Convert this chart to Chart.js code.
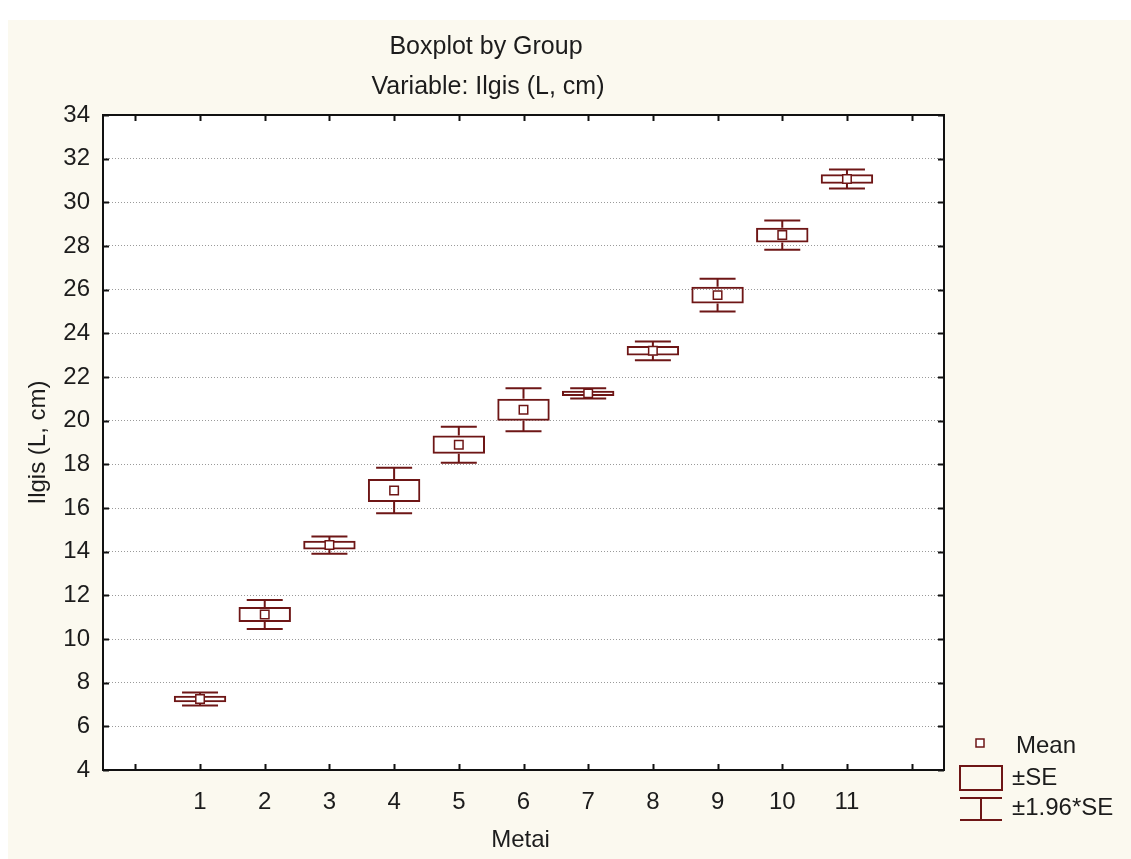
<!DOCTYPE html>
<html>
<head>
<meta charset="utf-8">
<script src="https://cdn.jsdelivr.net/npm/chart.js@4.4.1/dist/chart.umd.min.js"></script>
<style>
  html, body { margin: 0; padding: 0; background: #ffffff; }
  #wrap { width: 1131px; height: 859px; }
</style>
</head>
<body>
<div id="wrap"><canvas id="c" width="1131" height="859"></canvas></div>
<script>
// Group labels (Metai) and per-group mean length with its standard error
const groups = [1, 2, 3, 4, 5, 6, 7, 8, 9, 10, 11];
const means  = [7.25, 11.12, 14.30, 16.80, 18.90, 20.50, 21.25, 23.20, 25.75, 28.50, 31.07];
const stdErr = [0.15, 0.34, 0.20, 0.53, 0.42, 0.50, 0.12, 0.22, 0.38, 0.34, 0.22];

// Axis tick values
const yTicks = [4, 6, 8, 10, 12, 14, 16, 18, 20, 22, 24, 26, 28, 30, 32, 34];
const xMarks = [0, 1, 2, 3, 4, 5, 6, 7, 8, 9, 10, 11, 12];

const Z = 1.96;
const INK = '#6e1616';
const TEXT = '#1c1c1c';
const FONT = '"Liberation Sans", Arial, sans-serif';

// Box = mean ± SE
const boxData = groups.map((g, i) => ({ x: g, y: [means[i] - stdErr[i], means[i] + stdErr[i]] }));
// Whisker stems from box edge to mean ± 1.96*SE, separated by gaps
const stemData = [];
groups.forEach((g, i) => {
  stemData.push({ x: g, y: means[i] + stdErr[i] }, { x: g, y: means[i] + Z * stdErr[i] }, { x: g, y: null });
  stemData.push({ x: g, y: means[i] - stdErr[i] }, { x: g, y: means[i] - Z * stdErr[i] }, { x: g, y: null });
});
// Whisker caps
const capData = [];
groups.forEach((g, i) => {
  capData.push({ x: g, y: means[i] + Z * stdErr[i] }, { x: g, y: means[i] - Z * stdErr[i] });
});
const meanData = groups.map((g, i) => ({ x: g, y: means[i] }));

const decor = {
  id: 'decor',
  beforeDraw(chart) {
    const { ctx, chartArea: a } = chart;
    ctx.save();
    ctx.fillStyle = '#ffffff';
    ctx.fillRect(0, 0, chart.width, chart.height);
    ctx.fillStyle = '#fbf9ef';
    ctx.fillRect(8, 20, chart.width - 8, chart.height - 20);
    ctx.fillStyle = '#ffffff';
    ctx.fillRect(a.left, a.top, a.right - a.left, a.bottom - a.top);
    ctx.restore();
  },
  afterDraw(chart) {
    const { ctx, chartArea: a } = chart;
    const xs = chart.scales.x, ys = chart.scales.y;
    ctx.save();
    // frame
    ctx.strokeStyle = '#111';
    ctx.lineWidth = 2;
    ctx.strokeRect(a.left, a.top, a.right - a.left, a.bottom - a.top);
    // inward tick marks
    ctx.lineWidth = 2;
    ctx.beginPath();
    xMarks.forEach(v => {
      const px = Math.round(xs.getPixelForValue(v)) + 0.5;
      ctx.moveTo(px, a.bottom); ctx.lineTo(px, a.bottom - 6);
      ctx.moveTo(px, a.top); ctx.lineTo(px, a.top + 6);
    });
    yTicks.forEach(v => {
      const py = Math.round(ys.getPixelForValue(v)) + 0.5;
      ctx.moveTo(a.left, py); ctx.lineTo(a.left + 6, py);
      ctx.moveTo(a.right, py); ctx.lineTo(a.right - 6, py);
    });
    ctx.stroke();

    // titles
    ctx.fillStyle = TEXT;
    ctx.font = '25px ' + FONT;
    ctx.textAlign = 'center';
    ctx.textBaseline = 'middle';
    ctx.fillText('Boxplot by Group', 486, 47);
    ctx.fillText('Variable: Ilgis (L, cm)', 488, 87);
    ctx.font = '24px ' + FONT;
    ctx.fillText('Metai', (a.left + a.right) / 2 - 3, 840);
    ctx.save();
    ctx.translate(38, (a.top + a.bottom) / 2);
    ctx.rotate(-Math.PI / 2);
    ctx.fillText('Ilgis (L, cm)', 0, 0);
    ctx.restore();

    // legend
    const lx = a.right + 16;
    ctx.strokeStyle = INK;
    ctx.fillStyle = '#fff';
    ctx.fillRect(lx + 16, 739, 8, 8);
    ctx.lineWidth = 1.5;
    ctx.strokeRect(lx + 16, 739, 8, 8);
    ctx.lineWidth = 2;
    ctx.strokeRect(lx, 766, 42, 24);
    ctx.beginPath();
    ctx.moveTo(lx, 798); ctx.lineTo(lx + 42, 798);
    ctx.moveTo(lx + 21, 798); ctx.lineTo(lx + 21, 820);
    ctx.moveTo(lx, 820); ctx.lineTo(lx + 42, 820);
    ctx.stroke();
    ctx.fillStyle = TEXT;
    ctx.textAlign = 'left';
    ctx.fillText('Mean', lx + 56, 746);
    ctx.fillText('\u00b1SE', lx + 52, 778);
    ctx.fillText('\u00b11.96*SE', lx + 52, 808);
    ctx.restore();
  }
};

new Chart(document.getElementById('c'), {
  type: 'bar',
  data: {
    datasets: [
      {
        type: 'scatter', label: 'Mean', data: meanData, order: 0,
        pointStyle: 'rect', pointRadius: 6, pointBorderWidth: 1.5,
        pointBackgroundColor: '#ffffff', pointBorderColor: INK
      },
      {
        type: 'scatter', label: '\u00b11.96*SE caps', data: capData, order: 1,
        pointStyle: 'line', pointRadius: 18, pointBorderWidth: 2,
        pointBorderColor: INK
      },
      {
        type: 'line', label: '\u00b11.96*SE', data: stemData, order: 2,
        borderColor: INK, borderWidth: 2, pointRadius: 0, spanGaps: false, fill: false
      },
      {
        type: 'bar', label: '\u00b1SE', data: boxData, order: 3,
        backgroundColor: 'rgba(255,255,255,0)', borderColor: INK, borderWidth: 2,
        borderSkipped: false, categoryPercentage: 1, barPercentage: 0.81
      }
    ]
  },
  options: {
    responsive: false,
    animation: false,
    events: [],
    layout: { padding: { left: 0, top: 115, right: 187, bottom: 0 } },
    plugins: { legend: { display: false }, tooltip: { enabled: false }, title: { display: false } },
    scales: {
      x: {
        type: 'linear', min: -0.5, max: 12.5, offset: false,
        afterBuildTicks: s => { s.ticks = groups.map(v => ({ value: v })); },
        afterFit: s => { s.height = 89; },
        grid: { display: false, drawTicks: false },
        border: { display: false },
        ticks: { padding: 18, color: TEXT, font: { family: FONT, size: 24 }, maxRotation: 0, autoSkip: false }
      },
      y: {
        type: 'linear', min: 4, max: 34,
        afterBuildTicks: s => { s.ticks = yTicks.map(v => ({ value: v })); },
        afterFit: s => { s.width = 103; },
        grid: { color: '#9a9a9a', lineWidth: 1, drawTicks: false },
        border: { display: false, dash: [1, 2] },
        ticks: { padding: 13, color: TEXT, font: { family: FONT, size: 24 } }
      }
    }
  },
  plugins: [decor]
});
</script>
</body>
</html>
